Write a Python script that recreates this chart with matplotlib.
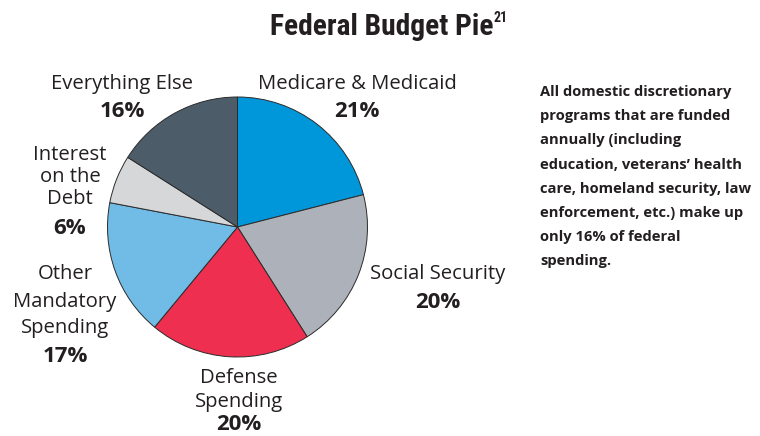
import matplotlib
matplotlib.use("Agg")
import matplotlib.pyplot as plt
from matplotlib import font_manager

categories = ["Medicare & Medicaid", "Social Security", "Defense Spending",
              "Other Mandatory Spending", "Interest on the Debt", "Everything Else"]
values = [21, 20, 20, 17, 6, 16]
colors = ["#0096da", "#adb1b9", "#ee2f4f", "#70bce6", "#d6d7d9", "#4c5c69"]

title = "Federal Budget Pie"
title_sup = "21"
note_lines = ["All domestic discretionary",
              "programs that are funded",
              "annually (including",
              "education, veterans\u2019 health",
              "care, homeland security, law",
              "enforcement, etc.) make up",
              "only 16% of federal",
              "spending."]

W, H = 760, 436
fig = plt.figure(figsize=(W / 100, H / 100), dpi=100)
ax = fig.add_axes([0, 0, 1, 1])

cx, cy, r = 237.5, H - 227, 130
ax.pie(values, colors=colors, startangle=90, counterclock=False,
       center=(cx, cy), radius=r, frame=True,
       wedgeprops=dict(edgecolor="#2b2b2b", linewidth=0.7))
ax.set_xlim(0, W)
ax.set_ylim(0, H)
ax.axis("off")

tc = "#231f20"
lab_font = ["Open Sans", "DejaVu Sans"]
lab_size = 14.6
pct_size = 16


def t(x, y, s, bold=False):
    ax.text(x, H - y, s, ha="center", va="center",
            fontsize=pct_size if bold else lab_size, color=tc,
            family=lab_font, fontweight="bold" if bold else "normal")


pcts = [f"{v}%" for v in values]

# Medicare & Medicaid
t(357, 84, categories[0])
t(357, 111, pcts[0], bold=True)
# Social Security
t(438, 274, categories[1])
t(438, 302, pcts[1], bold=True)
# Defense Spending
t(239, 378, "Defense")
t(239, 402, "Spending")
t(239, 425, pcts[2], bold=True)
# Other Mandatory Spending
t(65, 274, "Other")
t(65, 302, "Mandatory")
t(65, 328, "Spending")
t(65, 357, pcts[3], bold=True)
# Interest on the Debt
t(70, 155, "Interest")
t(70, 177, "on the")
t(70, 199, "Debt")
t(70, 228, pcts[4], bold=True)
# Everything Else
t(122, 84, categories[5])
t(122, 111, pcts[5], bold=True)

# Title (condensed face if available)
names = {f.name for f in font_manager.fontManager.ttflist}
cands = ["Liberation Sans Narrow", "DejaVu Sans Condensed", "Roboto Condensed"]
title_font = [n for n in cands if n in names] + ["Liberation Sans", "DejaVu Sans"]
tt = ax.text(493, H - 35, title, ha="right", va="baseline", fontsize=20,
             fontweight="bold", family=title_font, color=tc,
             fontstretch="condensed")
fig.canvas.draw()
bb = tt.get_window_extent()
target = 493 - 270
if bb.width > 0:
    tt.set_fontsize(20 * target / bb.width)
ax.text(494, H - 22, title_sup, ha="left", va="baseline", fontsize=10,
        fontweight="bold", family=title_font, color=tc,
        fontstretch="condensed")

# Note
for i, line in enumerate(note_lines):
    ax.text(540, H - (92 + i * 24.2), line, ha="left", va="center",
            fontsize=10.6, fontweight="bold", family=lab_font, color=tc)

fig.savefig("out.png", dpi=100)
